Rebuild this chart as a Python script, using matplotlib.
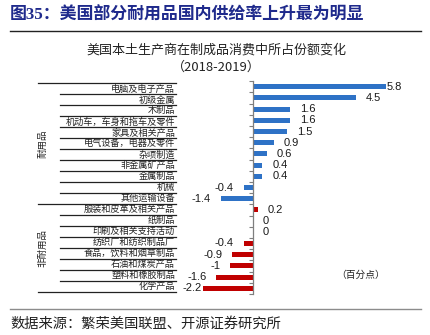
import matplotlib
matplotlib.use("Agg")
import matplotlib.pyplot as plt
from matplotlib.lines import Line2D

plt.rcParams['font.family'] = ['Noto Sans CJK SC', 'DejaVu Sans']

# ---------------- data ----------------
categories = [
    "电脑及电子产品", "初级金属", "木制品", "机动车，车身和拖车及零件",
    "家具及相关产品", "电气设备，电器及零件", "杂项制造", "非金属矿产品",
    "金属制品", "机械", "其他运输设备",
    "服装和皮革及相关产品", "纸制品", "印刷及相关支持活动", "纺织厂和纺织制品厂",
    "食品，饮料和烟草制品", "石油和煤炭产品", "塑料和橡胶制品", "化学产品",
]
values = [5.8, 4.5, 1.6, 1.6, 1.5, 0.9, 0.6, 0.4, 0.4, -0.4, -1.4,
          0.2, 0, 0, -0.4, -0.9, -1.0, -1.6, -2.2]
value_labels = ["5.8", "4.5", "1.6", "1.6", "1.5", "0.9", "0.6", "0.4", "0.4", "-0.4", "-1.4",
                "0.2", "0", "0", "-0.4", "-0.9", "-1", "-1.6", "-2.2"]
groups = ["耐用品", "非耐用品"]
group_sizes = [11, 8]

title = "图35：美国部分耐用品国内供给率上升最为明显"
subtitle1 = "美国本土生产商在制成品消费中所占份额变化"
subtitle2 = "（2018-2019）"
unit = "（百分点）"
source = "数据来源：繁荣美国联盟、开源证券研究所"

# ---------------- layout ----------------
W, H = 431, 335
fig = plt.figure(figsize=(W / 100, H / 100), dpi=100)

def fx(px):
    return px / W

def fy(py):
    return 1 - py / H

n = len(categories)
row_top, row_bot = 81.1, 293.9
ax_left, ax_right = 200, 412
ax = fig.add_axes([fx(ax_left), fy(row_bot), fx(ax_right - ax_left), (row_bot - row_top) / H])
zero_px = 253
scale = 22.9
ax.set_xlim((ax_left - zero_px) / scale, (ax_right - zero_px) / scale)
ax.set_ylim(n - 0.5, -0.5)

colors = ["#2E72C6"] * group_sizes[0] + ["#C00000"] * group_sizes[1]
ypos = list(range(n))
ax.barh(ypos, values, height=0.45, color=colors, zorder=2)

for sp in ["top", "right", "bottom"]:
    ax.spines[sp].set_visible(False)
ax.spines["left"].set_position(("data", 0))
ax.spines["left"].set_color("#7f7f7f")
ax.spines["left"].set_linewidth(0.9)
ax.set_xticks([])
ax.set_yticks([i - 0.5 for i in range(n + 1)])
ax.set_yticklabels([])
ax.tick_params(axis="y", direction="out", length=3, width=0.8, color="#7f7f7f")
ax.patch.set_alpha(0)

vmax, vmin = max(values), min(values)
for y, v, lab in zip(ypos, values, value_labels):
    if v >= 0:
        off = 1 if v == vmax else 10
        ax.annotate(lab, (v, y), xytext=(off, 0), textcoords="offset pixels",
                    ha="left", va="center", fontsize=8, family="Liberation Sans", color="#1a1a1a")
    else:
        off = 1 if v == vmin else 10
        ax.annotate(lab, (v, y), xytext=(-off, 0), textcoords="offset pixels",
                    ha="right", va="center", fontsize=8, family="Liberation Sans", color="#1a1a1a")

# ---------------- label table ----------------
tab_left, tab_right = 38, 176
tab_top, tab_bot = 83.3, 291.7
tab = fig.add_axes([fx(tab_left), fy(tab_bot), fx(tab_right - tab_left), (tab_bot - tab_top) / H])
tab.set_xlim(tab_left, tab_right)
tab.set_ylim(n, 0)
tab.axis("off")

group_starts = [0, group_sizes[0], n]
for k in range(n + 1):
    x0 = tab_left if k in group_starts else 60
    tab.add_line(Line2D([x0, tab_right], [k, k], color="#222222", lw=0.9, clip_on=False))
for i, c in enumerate(categories):
    tab.text(tab_right - 1, i + 0.52, c, ha="right", va="center", fontsize=6.6, color="#222222")
start = 0
for g, s in zip(groups, group_sizes):
    tab.text(43, start + s / 2, g, rotation=90, ha="center", va="center",
             fontsize=6.8, color="#222222")
    start += s

# ---------------- titles, rules, notes ----------------
fig.text(fx(10), fy(16), title, ha="left", va="center", fontsize=12.2, fontweight="bold",
         color="#1F2A8C", family=["Liberation Serif", "Noto Sans CJK SC"])
fig.add_artist(Line2D([fx(10), fx(421)], [fy(31), fy(31)], color="#222222", lw=1.0))
fig.text(fx(216), fy(50), subtitle1, ha="center", va="center", fontsize=9.4, color="#222222")
fig.text(fx(216), fy(67), subtitle2, ha="center", va="center", fontsize=9.4, color="#222222")
fig.text(fx(361), fy(275), unit, ha="center", va="center", fontsize=7, color="#222222")
fig.add_artist(Line2D([fx(10), fx(421)], [fy(309), fy(309)], color="#8c8c8c", lw=1.0))
fig.text(fx(10), fy(324), source, ha="left", va="center", fontsize=10.3, color="#222222")

fig.savefig("out.png", dpi=100)
